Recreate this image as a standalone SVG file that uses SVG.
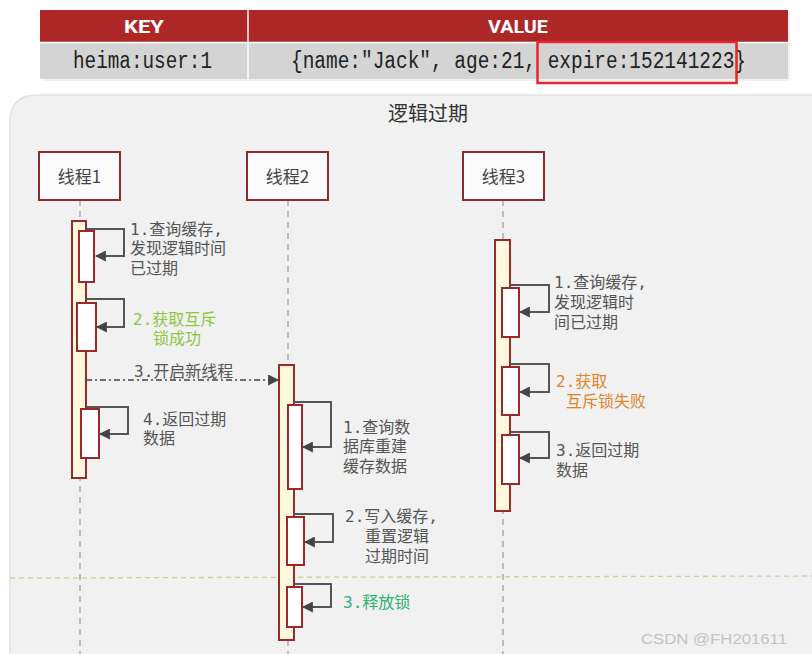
<svg xmlns="http://www.w3.org/2000/svg" width="812" height="654" viewBox="0 0 812 654">
<style>
.lbl{font-family:"DejaVu Sans Mono","Noto Sans CJK SC",monospace;font-size:16px;fill:#555}
.head{font-family:"Noto Sans CJK SC","Noto Sans",sans-serif;font-size:17px;fill:#444}
.box{fill:#fbfbfb;stroke:#8e2c2c;stroke-width:2}
.act{fill:#fff8dc;stroke:#9a2a2a;stroke-width:2}
.inner{fill:#ffffff;stroke:#9a2a2a;stroke-width:2}
.life{stroke:#aaa;stroke-width:1.5;stroke-dasharray:6 5;fill:none}
.loop{fill:none;stroke:#555;stroke-width:2}
.th{font-family:"Roboto","Liberation Sans",sans-serif;font-weight:bold;font-size:19px;fill:#fff}
.td{font-family:"Liberation Mono","DejaVu Sans Mono",monospace;font-size:23px;fill:#222}
</style>
<defs>
<marker id="ah" viewBox="0 0 10 10" refX="9" refY="5" markerWidth="11" markerHeight="11" markerUnits="userSpaceOnUse" orient="auto"><path d="M0,0 L10,5 L0,10 z" fill="#444"/></marker>
</defs>
<rect x="0" y="0" width="812" height="654" fill="#ffffff"/>
<g id="table">
<rect x="42" y="12" width="748" height="69" fill="#e8e8e8" opacity="0.6"/>
<rect x="40" y="10" width="748" height="32" fill="#ad2727"/>
<rect x="40" y="43" width="748" height="36" fill="#d4d4d4"/>
<line x1="248" y1="10" x2="248" y2="79" stroke="#ffffff" stroke-width="1.5"/>
<line x1="40" y1="42.5" x2="788" y2="42.5" stroke="#ffffff" stroke-width="1.5"/>
<text class="th" x="144" y="33" text-anchor="middle" textLength="40" lengthAdjust="spacingAndGlyphs">KEY</text>
<text class="th" x="518" y="33" text-anchor="middle" textLength="60" lengthAdjust="spacingAndGlyphs">VALUE</text>
<text class="td" x="73" y="68" textLength="139" lengthAdjust="spacingAndGlyphs">heima:user:1</text>
<text class="td" x="291" y="68" textLength="455" lengthAdjust="spacingAndGlyphs">{name:"Jack", age:21, expire:152141223}</text>
<rect x="537.5" y="42" width="199" height="41" fill="none" stroke="#e8262b" stroke-width="2.5"/>
</g>
<g id="panel">
<path d="M10,680 V122 Q10,95 37,95 H830 V680 Z" fill="#f1f1f1" stroke="#e2e2e2" stroke-width="1.5"/>
<text x="428" y="121" text-anchor="middle" font-family="Noto Sans CJK SC, sans-serif" font-size="20" fill="#333">逻辑过期</text>
<line x1="10" y1="578" x2="812" y2="576" stroke="#cfcf9a" stroke-width="1.3" stroke-dasharray="5 4"/>
</g>
<g id="lifelines">
<line class="life" x1="80" y1="200" x2="80" y2="654"/>
<line class="life" x1="288" y1="200" x2="288" y2="654"/>
<line class="life" x1="503" y1="200" x2="503" y2="654"/>
</g>
<g id="thread1">
<rect class="box" x="39" y="152" width="81" height="48"/>
<text class="head" x="79.5" y="183" text-anchor="middle">线程1</text>
<rect class="act" x="72" y="221" width="14" height="257"/>
<rect class="inner" x="79" y="231" width="15" height="51"/>
<rect class="inner" x="77" y="303" width="19" height="48"/>
<rect class="inner" x="81" y="409" width="18" height="49"/>
</g>
<g id="thread2">
<rect class="box" x="247" y="152" width="81" height="48"/>
<text class="head" x="287.5" y="183" text-anchor="middle">线程2</text>
<rect class="act" x="279" y="365" width="15" height="275"/>
<rect class="inner" x="288" y="405" width="14" height="84"/>
<rect class="inner" x="287" y="517" width="17" height="48"/>
<rect class="inner" x="287" y="587" width="15" height="40"/>
</g>
<g id="thread3">
<rect class="box" x="463" y="152" width="81" height="48"/>
<text class="head" x="503.5" y="183" text-anchor="middle">线程3</text>
<rect class="act" x="495" y="240" width="15" height="271"/>
<rect class="inner" x="502" y="288" width="17" height="49"/>
<rect class="inner" x="502" y="367" width="17" height="48"/>
<rect class="inner" x="502" y="435" width="17" height="49"/>
</g>
<g id="connectors">
<path class="loop" d="M86,229 H124 V256 H96" marker-end="url(#ah)"/>
<path class="loop" d="M86,299 H124 V327 H97" marker-end="url(#ah)"/>
<line x1="86" y1="380" x2="278" y2="380" stroke="#444" stroke-width="1.5" stroke-dasharray="6 3 2 3" marker-end="url(#ah)"/>
<path class="loop" d="M87,407 H128 V434 H100" marker-end="url(#ah)"/>
<path class="loop" d="M294,402 H331 V447 H303" marker-end="url(#ah)"/>
<path class="loop" d="M294,514 H333 V542 H305" marker-end="url(#ah)"/>
<path class="loop" d="M294,584 H331 V607 H303" marker-end="url(#ah)"/>
<path class="loop" d="M510,285 H549 V312 H520" marker-end="url(#ah)"/>
<path class="loop" d="M510,364 H549 V392 H520" marker-end="url(#ah)"/>
<path class="loop" d="M510,432 H549 V458 H520" marker-end="url(#ah)"/>
</g>
<g id="labels">
<text class="lbl" x="130" y="235">1.查询缓存,</text>
<text class="lbl" x="130" y="254">发现逻辑时间</text>
<text class="lbl" x="130" y="274">已过期</text>
<text class="lbl" x="133" y="325" style="fill:#8cc63f">2.获取互斥</text>
<text class="lbl" x="153" y="344" style="fill:#8cc63f">锁成功</text>
<text class="lbl" x="134" y="377">3.开启新线程</text>
<text class="lbl" x="143" y="425">4.返回过期</text>
<text class="lbl" x="143" y="444">数据</text>
<text class="lbl" x="343" y="433">1.查询数</text>
<text class="lbl" x="343" y="452">据库重建</text>
<text class="lbl" x="343" y="472">缓存数据</text>
<text class="lbl" x="345" y="522">2.写入缓存,</text>
<text class="lbl" x="365" y="542">重置逻辑</text>
<text class="lbl" x="365" y="562">过期时间</text>
<text class="lbl" x="343" y="608" style="fill:#2eb36e">3.释放锁</text>
<text class="lbl" x="554" y="288">1.查询缓存,</text>
<text class="lbl" x="554" y="308">发现逻辑时</text>
<text class="lbl" x="554" y="328">间已过期</text>
<text class="lbl" x="556" y="387" style="fill:#e0832b">2.获取</text>
<text class="lbl" x="566" y="407" style="fill:#e0832b">互斥锁失败</text>
<text class="lbl" x="556" y="456">3.返回过期</text>
<text class="lbl" x="556" y="476">数据</text>
<text x="641" y="644" font-family="Liberation Sans, sans-serif" font-size="15" fill="#c4c4c4" textLength="146" lengthAdjust="spacingAndGlyphs">CSDN @FH201611</text>
</g>
</svg>
